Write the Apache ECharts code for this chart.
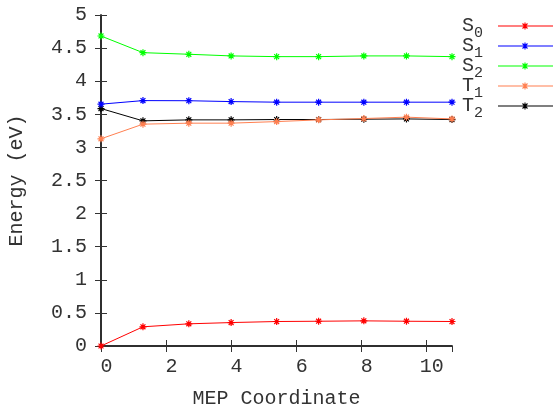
<!DOCTYPE html>
<html><head><meta charset="utf-8">
<script src="https://cdn.jsdelivr.net/npm/echarts@6/dist/echarts.min.js"></script>
<style>html,body{margin:0;padding:0;background:#fff}#c{width:553px;height:406px}</style>
</head><body><div id="c"></div>
<script>
const mepCoord = [0, 1.29, 2.70, 4.00, 5.40, 6.69, 8.08, 9.39, 10.79];
const S0 = [0.00, 0.29, 0.335, 0.354, 0.370, 0.374, 0.380, 0.374, 0.370];
const S1 = [3.653, 3.707, 3.705, 3.692, 3.683, 3.683, 3.683, 3.683, 3.683];
const S2 = [4.683, 4.431, 4.407, 4.382, 4.371, 4.371, 4.382, 4.382, 4.371];
const T1 = [3.13, 3.351, 3.366, 3.366, 3.390, 3.416, 3.436, 3.457, 3.430];
const T2 = [3.587, 3.401, 3.416, 3.416, 3.421, 3.421, 3.426, 3.430, 3.421];
const seriesNames = ['S0', 'S1', 'S2', 'T1', 'T2'];
const seriesColors = ['#ff0000', '#0000ff', '#00ff00', '#ff7f50', '#000000'];
const seriesValues = [S0, S1, S2, T1, T2];

const FONT = 'Liberation Mono';
const TXT = '#333333';
const star = 'path://M0,5L10,5M5,0L5,10M1.5,1.5L8.5,8.5M8.5,1.5L1.5,8.5';
const legendIcon = 'path://M0,4L56,4M23.5,4L30.5,4M27,0.5L27,7.5M24.5,1.5L29.5,6.5M29.5,1.5L24.5,6.5';

const chart = echarts.init(document.getElementById('c'));
const axisLine = {show: true, lineStyle: {color: '#222', width: 1.5}};
const tick = {show: true, inside: true, length: 6, lineStyle: {color: '#333', width: 1}};

chart.setOption({
  animation: false,
  backgroundColor: '#fff',
  grid: {left: 101, right: 101, top: 15, bottom: 60, containLabel: false, outerBoundsMode: 'none'},
  legend: {
    orient: 'vertical', left: 457, top: 11, align: 'right',
    itemWidth: 56, itemHeight: 8, itemGap: -5,
    data: seriesNames.map(n => ({name: n, icon: legendIcon, itemStyle: {borderWidth: 1.1}})),
    formatter: n => '{b|' + n[0] + '}{s|' + n[1] + '}',
    textStyle: {
      fontFamily: FONT, color: TXT,
      rich: {
        b: {fontFamily: FONT, fontSize: 20, color: TXT},
        s: {fontFamily: FONT, fontSize: 15, color: TXT, padding: [15, 10, 0, 0]}
      }
    }
  },
  xAxis: [{
    type: 'value', min: 0, max: mepCoord[mepCoord.length - 1], interval: 2,
    name: 'MEP Coordinate', nameLocation: 'middle', nameGap: 43,
    nameTextStyle: {fontFamily: FONT, fontSize: 20, color: TXT},
    axisLine: axisLine, axisTick: tick, splitLine: {show: false},
    axisLabel: {fontFamily: FONT, fontSize: 20, color: TXT, margin: 11, padding: [0, 0, 0, 11], showMaxLabel: false}
  }, {
    type: 'value', position: 'top', min: 0, max: mepCoord[mepCoord.length - 1], interval: 2,
    axisLine: axisLine, axisTick: tick, splitLine: {show: false}, axisLabel: {show: false}
  }],
  yAxis: [{
    type: 'value', min: 0, max: 5, interval: 0.5,
    name: 'Energy (eV)', nameLocation: 'middle', nameGap: 74,
    nameTextStyle: {fontFamily: FONT, fontSize: 20, color: TXT},
    axisLine: axisLine, axisTick: tick, splitLine: {show: false},
    axisLabel: {fontFamily: FONT, fontSize: 20, color: TXT, margin: 14}
  }, {
    type: 'value', position: 'right', min: 0, max: 5, interval: 0.5,
    axisLine: axisLine, axisTick: tick, splitLine: {show: false}, axisLabel: {show: false}
  }],
  series: seriesNames.map((n, i) => ({
    name: n, type: 'line',
    data: mepCoord.map((x, j) => [x, seriesValues[i][j]]),
    symbol: star, symbolSize: 7, showSymbol: true,
    lineStyle: {color: seriesColors[i], width: 1},
    itemStyle: {color: seriesColors[i], borderColor: seriesColors[i], borderWidth: 1.2},
    z: 10 - i
  }))
});
</script></body></html>
